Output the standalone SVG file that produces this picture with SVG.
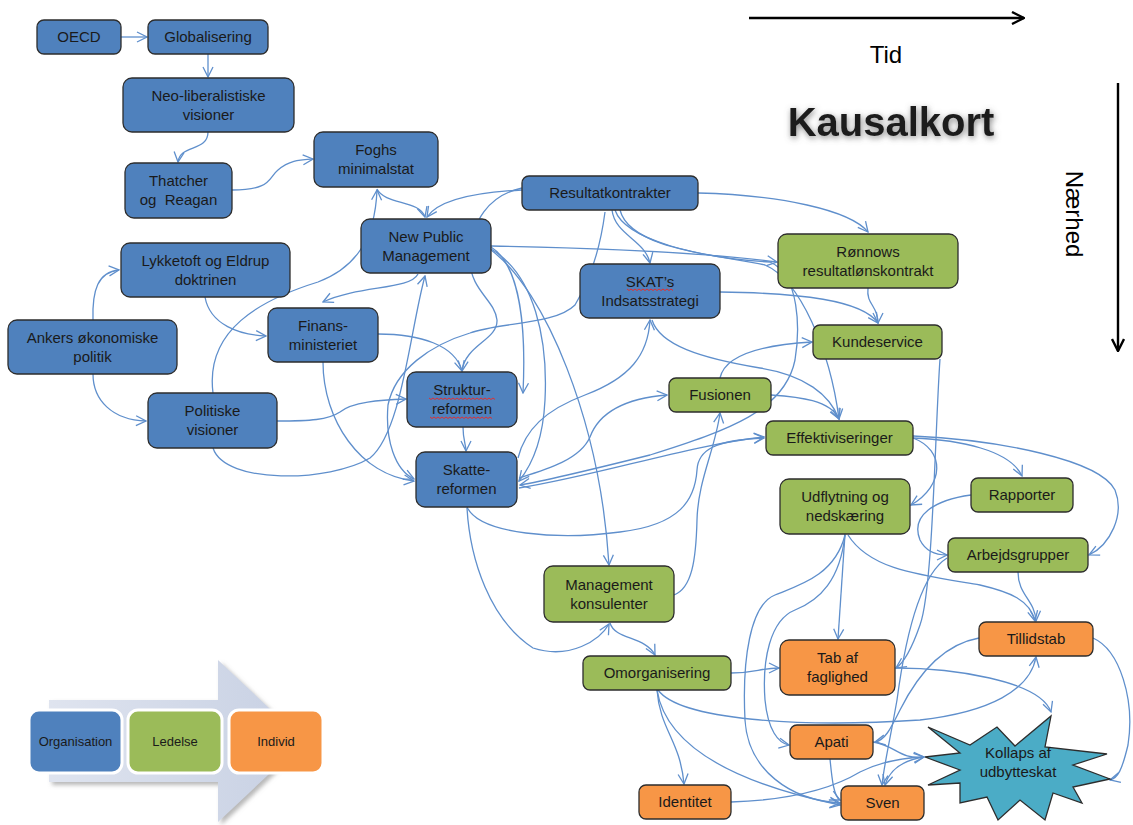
<svg xmlns="http://www.w3.org/2000/svg" width="1133" height="825" viewBox="0 0 1133 825">
<defs>
<style>
.n rect{stroke:#2d2d2d;stroke-width:1.3}
.b rect{fill:#4f81bd}
.g rect{fill:#9bbb59}
.o rect{fill:#f79646}
text{font-family:"Liberation Sans",Arial,sans-serif;font-size:15px;fill:#1a1a1a;text-anchor:middle}
#conn path{fill:none;stroke:#5f8fcc;stroke-width:1.3;marker-end:url(#a)}
.sq{fill:none;stroke:#e03030;stroke-width:1}
.lg rect{stroke:#fff;stroke-width:3}
</style>
<marker id="a" viewBox="0 0 12 12" refX="11" refY="6" markerWidth="12" markerHeight="12" markerUnits="userSpaceOnUse" orient="auto"><path d="M1,1 L11,6 L1,11" fill="none" stroke="#5f8fcc" stroke-width="1.3"/></marker>
<marker id="k" viewBox="0 0 14 14" refX="13" refY="7" markerWidth="14" markerHeight="14" markerUnits="userSpaceOnUse" orient="auto"><path d="M1,1 L13,7 L1,13" fill="none" stroke="#000" stroke-width="2.4"/></marker>
<filter id="sh" x="-20%" y="-40%" width="140%" height="180%"><feGaussianBlur in="SourceAlpha" stdDeviation="3"/><feOffset dx="1" dy="2" result="b"/><feFlood flood-color="#666" flood-opacity="0.8"/><feComposite in2="b" operator="in"/><feMerge><feMergeNode/><feMergeNode in="SourceGraphic"/></feMerge></filter>
<filter id="ash" x="-10%" y="-10%" width="130%" height="130%"><feGaussianBlur in="SourceAlpha" stdDeviation="2"/><feOffset dx="3" dy="3" result="b"/><feFlood flood-color="#888" flood-opacity="0.6"/><feComposite in2="b" operator="in"/><feMerge><feMergeNode/><feMergeNode in="SourceGraphic"/></feMerge></filter>
<linearGradient id="lgA" x1="0" y1="0" x2="1" y2="0"><stop offset="0" stop-color="#dfe4ef"/><stop offset="1" stop-color="#c7d0e3"/></linearGradient>
</defs>
<rect width="1133" height="825" fill="#fff"/>

<!-- axes and titles -->
<g id="axes">
<line x1="749" y1="18" x2="1024" y2="18" stroke="#000" stroke-width="2.4" marker-end="url(#k)"/>
<line x1="1118" y1="83" x2="1118" y2="351" stroke="#000" stroke-width="2.4" marker-end="url(#k)"/>
<text x="886" y="63" style="font-size:24px;fill:#000">Tid</text>
<text transform="translate(1066,214) rotate(90)" style="font-size:24px;fill:#000">Nærhed</text>
<text x="891" y="136" filter="url(#sh)" style="font-size:40px;font-weight:bold;fill:#1c1c1c">Kausalkort</text>
</g>

<!-- connectors -->
<g id="conn">
<path d="M121,37 L147,37"/>
<path d="M208,54 L208,77"/>
<path d="M208,132 C208,152 180,144 178,162"/>
<path d="M232,190 C272,190 268,178 278,170 C290,160 300,160 313,159"/>
<path d="M213,393 C205,330 260,300 318,282 C355,268 375,240 377,190"/>
<path d="M377,189 C385,205 420,200 425,217"/>
<path d="M522,190 C480,192 440,198 427,217"/>
<path d="M93,320 C92,290 98,272 119,270"/>
<path d="M93,374 C93,400 112,420 146,421"/>
<path d="M205,297 C210,325 240,335 266,336"/>
<path d="M418,274 C410,290 360,285 323,302"/>
<path d="M213,448 C225,485 330,482 370,458 C402,432 410,330 425,276"/>
<path d="M323,362 C323,420 360,475 414,481"/>
<path d="M378,334 C420,334 455,345 462,371"/>
<path d="M277,421 C310,421 328,420 340,412 C352,402 380,400 406,399"/>
<path d="M463,427 C463,440 466,445 466,451"/>
<path d="M522,188 C490,195 470,220 470,260 C470,290 495,300 497,320 C498,340 465,345 462,371"/>
<path d="M491,247 C515,262 527,310 523,393"/>
<path d="M491,249 C535,275 548,340 545,400 C543,440 532,465 519,481"/>
<path d="M491,250 C545,290 600,420 609,565"/>
<path d="M491,246 C600,248 700,252 777,262"/>
<path d="M698,193 C780,195 850,210 868,232"/>
<path d="M612,210 C615,235 645,240 650,263"/>
<path d="M620,210 C630,250 720,255 765,265 C800,280 830,350 839,419"/>
<path d="M615,210 C625,240 700,258 770,262 C800,275 800,330 795,360 C785,410 730,430 650,455 C590,470 550,480 520,485"/>
<path d="M720,292 C800,293 862,300 878,323"/>
<path d="M868,288 C866,305 878,305 878,323"/>
<path d="M605,212 C600,250 590,280 575,305 C555,325 500,322 470,333 C430,345 395,370 388,405 C385,440 395,470 414,479"/>
<path d="M518,458 C525,430 545,410 585,395 C630,378 648,355 650,320"/>
<path d="M519,478 C545,470 580,460 590,437 C600,410 630,398 667,395"/>
<path d="M519,488 C600,475 690,445 764,437"/>
<path d="M467,507 C480,535 560,540 620,532 C680,525 695,500 697,470 C698,450 715,440 764,438"/>
<path d="M467,508 C470,560 490,620 533,648 C570,660 600,640 609,624"/>
<path d="M674,595 C692,588 696,560 697,520 C698,480 715,450 720,413"/>
<path d="M610,623 C615,640 645,636 655,655"/>
<path d="M720,378 C725,355 760,345 812,342"/>
<path d="M771,395 C800,397 830,400 839,419"/>
<path d="M652,320 C660,345 700,358 760,368 C805,375 830,395 839,419"/>
<path d="M913,438 C945,450 945,485 911,505"/>
<path d="M913,438 C960,440 1010,450 1022,476"/>
<path d="M913,436 C1000,440 1100,460 1115,490 C1125,515 1110,545 1089,555"/>
<path d="M971,495 C935,500 910,515 920,540 C925,550 935,555 947,555"/>
<path d="M940,359 C935,430 933,590 920,625 C912,648 905,662 896,668"/>
<path d="M845,534 C842,580 840,610 838,639"/>
<path d="M845,535 C840,580 820,600 795,610 C770,620 762,660 765,700 C768,730 778,743 789,745"/>
<path d="M845,535 C835,575 800,585 775,595 C750,605 742,660 745,720 C748,770 790,800 840,803"/>
<path d="M848,535 C870,570 920,575 980,585 C1010,592 1030,600 1035,621"/>
<path d="M1018,572 C1018,595 1035,600 1036,621"/>
<path d="M947,558 C920,575 905,640 897,700 C890,740 884,765 882,785"/>
<path d="M731,673 C755,673 760,668 779,668"/>
<path d="M657,690 C660,730 680,740 684,784"/>
<path d="M657,690 C665,740 720,780 840,805"/>
<path d="M658,690 C680,720 800,728 920,720 C990,712 1030,690 1036,657"/>
<path d="M896,668 C950,668 1040,680 1051,712"/>
<path d="M979,638 C940,645 915,680 900,710 C890,730 885,740 875,742"/>
<path d="M1093,638 C1120,650 1135,700 1128,745 C1122,770 1118,778 1110,780"/>
<path d="M873,742 C895,745 900,760 924,757"/>
<path d="M731,802 C790,800 830,790 860,772 C880,762 900,758 924,757"/>
<path d="M924,757 C905,760 890,768 885,785"/>
<path d="M830,759 C832,780 834,797 840,800"/>
</g>

<!-- nodes -->
<g id="oecd" class="n b"><rect x="37" y="20" width="84" height="34" rx="7"/><text x="79" y="42">OECD</text></g>
<g id="globalisering" class="n b"><rect x="148" y="20" width="120" height="34" rx="7"/><text x="208" y="42">Globalisering</text></g>
<g id="neoliberal" class="n b"><rect x="123" y="78" width="171" height="54" rx="9"/><text x="208.5" y="100.5">Neo-liberalistiske</text><text x="208.5" y="119.5">visioner</text></g>
<g id="thatcher" class="n b"><rect x="125" y="163" width="107" height="55" rx="9"/><text x="178.5" y="186">Thatcher</text><text x="178.5" y="205">og&#160; Reagan</text></g>
<g id="foghs" class="n b"><rect x="314" y="132" width="124" height="55" rx="9"/><text x="376" y="155">Foghs</text><text x="376" y="174">minimalstat</text></g>
<g id="resultatkontrakter" class="n b"><rect x="522" y="176" width="176" height="34" rx="7"/><text x="610" y="198">Resultatkontrakter</text></g>
<g id="npm" class="n b"><rect x="361" y="219" width="130" height="54" rx="9"/><text x="426" y="241.5">New Public</text><text x="426" y="260.5">Management</text></g>
<g id="lykketoft" class="n b"><rect x="121" y="243" width="169" height="54" rx="9"/><text x="205.5" y="265.5">Lykketoft og Eldrup</text><text x="205.5" y="284.5">doktrinen</text></g>
<g id="skat" class="n b"><rect x="580" y="264" width="140" height="54" rx="9"/><text x="650" y="286.5">SKAT’s</text><text x="650" y="305.5">Indsatsstrategi</text><path class="sq" d="M627,289 l2,1.5 l2,-1.5 l2,1.5 l2,-1.5 l2,1.5 l2,-1.5 l2,1.5 l2,-1.5 l2,1.5 l2,-1.5 l2,1.5 l2,-1.5 l2,1.5 l2,-1.5 l2,1.5 l2,-1.5 l2,1.5 l2,-1.5 l2,1.5 l2,-1.5 l2,1.5 l2,-1.5 l2,1.5"/></g>
<g id="ronnows" class="n g"><rect x="778" y="234" width="180" height="54" rx="9"/><text x="868" y="256.5">Rønnows</text><text x="868" y="275.5">resultatlønskontrakt</text></g>
<g id="finans" class="n b"><rect x="268" y="308" width="110" height="54" rx="9"/><text x="323" y="330.5">Finans-</text><text x="323" y="349.5">ministeriet</text></g>
<g id="ankers" class="n b"><rect x="8" y="320" width="169" height="54" rx="9"/><text x="92.5" y="342.5">Ankers økonomiske</text><text x="92.5" y="361.5">politik</text></g>
<g id="kundeservice" class="n g"><rect x="813" y="325" width="129" height="34" rx="7"/><text x="877.5" y="347">Kundeservice</text></g>
<g id="struktur" class="n b"><rect x="407" y="372" width="110" height="55" rx="9"/><text x="462" y="395">Struktur-</text><text x="462" y="414">reformen</text><path class="sq" d="M429,398 l2,1.5 l2,-1.5 l2,1.5 l2,-1.5 l2,1.5 l2,-1.5 l2,1.5 l2,-1.5 l2,1.5 l2,-1.5 l2,1.5 l2,-1.5 l2,1.5 l2,-1.5 l2,1.5 l2,-1.5 l2,1.5 l2,-1.5 l2,1.5 l2,-1.5 l2,1.5 l2,-1.5 l2,1.5 l2,-1.5 l2,1.5 l2,-1.5 l2,1.5 l2,-1.5 l2,1.5 l2,-1.5 l2,1.5 l2,-1.5 l2,1.5"/><path class="sq" d="M430,417 l2,1.5 l2,-1.5 l2,1.5 l2,-1.5 l2,1.5 l2,-1.5 l2,1.5 l2,-1.5 l2,1.5 l2,-1.5 l2,1.5 l2,-1.5 l2,1.5 l2,-1.5 l2,1.5 l2,-1.5 l2,1.5 l2,-1.5 l2,1.5 l2,-1.5 l2,1.5 l2,-1.5 l2,1.5 l2,-1.5 l2,1.5 l2,-1.5 l2,1.5 l2,-1.5 l2,1.5 l2,-1.5 l2,1.5"/></g>
<g id="fusionen" class="n g"><rect x="669" y="378" width="102" height="34" rx="7"/><text x="720" y="400">Fusionen</text></g>
<g id="politiske" class="n b"><rect x="148" y="393" width="129" height="55" rx="9"/><text x="212.5" y="416">Politiske</text><text x="212.5" y="435">visioner</text></g>
<g id="effektiviseringer" class="n g"><rect x="766" y="421" width="147" height="34" rx="7"/><text x="839.5" y="443">Effektiviseringer</text></g>
<g id="skatte" class="n b"><rect x="416" y="452" width="101" height="55" rx="9"/><text x="466.5" y="475">Skatte-</text><text x="466.5" y="494">reformen</text></g>
<g id="udflytning" class="n g"><rect x="780" y="479" width="130" height="55" rx="9"/><text x="845" y="502">Udflytning og</text><text x="845" y="521">nedskæring</text></g>
<g id="rapporter" class="n g"><rect x="971" y="478" width="102" height="34" rx="7"/><text x="1022" y="500">Rapporter</text></g>
<g id="arbejdsgrupper" class="n g"><rect x="948" y="538" width="140" height="34" rx="7"/><text x="1018" y="560">Arbejdsgrupper</text></g>
<g id="management" class="n g"><rect x="544" y="566" width="130" height="56" rx="9"/><text x="609" y="589.5">Management</text><text x="609" y="608.5">konsulenter</text></g>
<g id="tillidstab" class="n o"><rect x="979" y="622" width="114" height="34" rx="7"/><text x="1036" y="644">Tillidstab</text></g>
<g id="omorganisering" class="n g"><rect x="583" y="656" width="148" height="34" rx="7"/><text x="657" y="678">Omorganisering</text></g>
<g id="tab" class="n o"><rect x="780" y="640" width="115" height="55" rx="9"/><text x="837.5" y="663">Tab af</text><text x="837.5" y="682">faglighed</text></g>
<g id="apati" class="n o"><rect x="790" y="725" width="83" height="34" rx="7"/><text x="831.5" y="747">Apati</text></g>
<g id="identitet" class="n o"><rect x="639" y="785" width="92" height="34" rx="7"/><text x="685" y="807">Identitet</text></g>
<g id="sven" class="n o"><rect x="841" y="786" width="83" height="34" rx="7"/><text x="882.5" y="808">Sven</text></g>
<g id="kollaps"><polygon points="928,727 970,745 997,727 1015,746 1051,716 1045,747 1107,754 1073,765 1110,779 1073,787 1082,803 1053,793 1045,820 1020,800 998,820 987,797 960,803 960,783 928,785 960,770 925,757 960,753" fill="#4bacc6" stroke="#2d2d2d" stroke-width="1.3"/><text x="1018" y="758">Kollaps af</text><text x="1018" y="777">udbytteskat</text></g>

<!-- legend -->
<g id="legend">
<polygon points="49,700 218,700 218,660 304,741 218,822 218,782 49,782" fill="url(#lgA)" filter="url(#ash)"/>
<g class="lg b" id="leg-org"><rect x="29" y="710" width="93" height="63" rx="10"/><text x="75.5" y="745.5" style="font-size:13px">Organisation</text></g>
<g class="lg g" id="leg-led"><rect x="128" y="710" width="94" height="63" rx="10"/><text x="175" y="745.5" style="font-size:13px">Ledelse</text></g>
<g class="lg o" id="leg-ind"><rect x="229" y="710" width="94" height="63" rx="10"/><text x="276" y="745.5" style="font-size:13px">Individ</text></g>
</g>
</svg>
